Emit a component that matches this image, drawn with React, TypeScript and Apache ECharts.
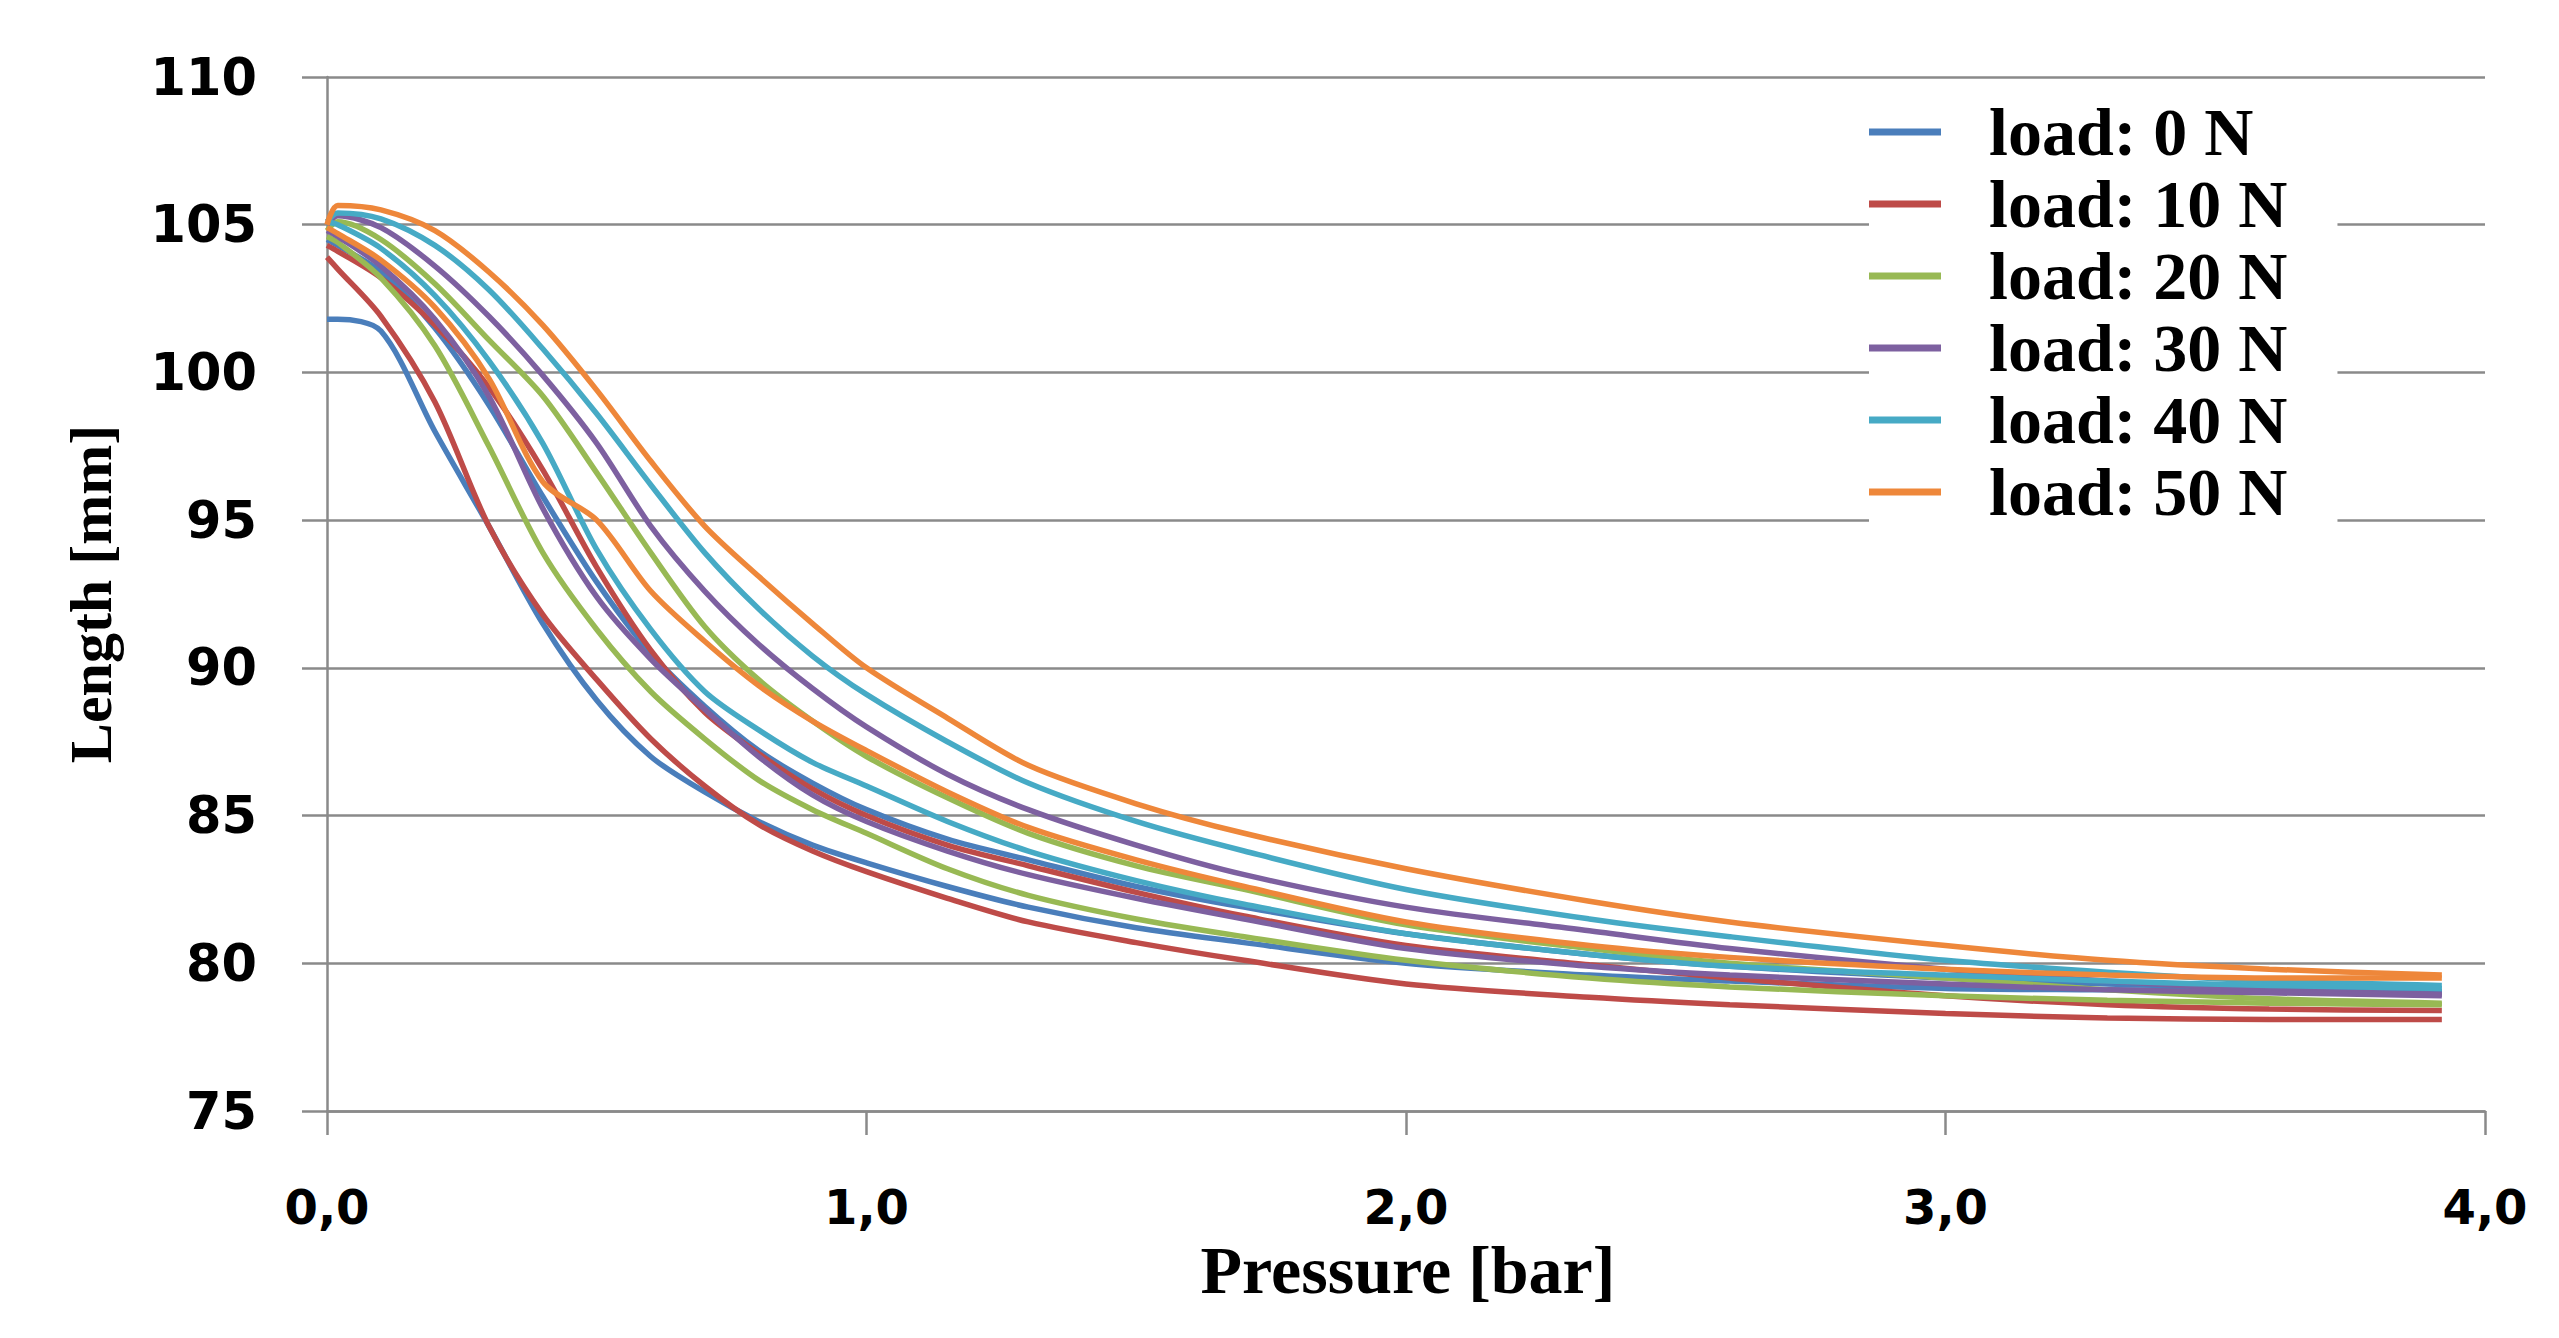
import React, { useEffect, useRef } from "react";
import * as echarts from "echarts";

const pressure = [0, 0.02, 0.1, 0.2, 0.3, 0.4, 0.5, 0.6, 0.7, 0.8, 0.9, 1.0, 1.15, 1.3, 1.5, 1.7, 2.0, 2.34, 2.6, 3.0, 3.3, 3.6, 3.92];

const load0Up = [101.8, 101.8, 101.4, 98.0, 94.8, 91.5, 88.9, 87.0, 85.8, 84.8, 84.0, 83.4, 82.6, 81.9, 81.2, 80.7, 80.0, 79.6, 79.4, 79.15, 79.1, 79.05, 79.0];
const load0Down = [104.5, 104.3, 103.4, 101.5, 98.9, 95.8, 92.9, 90.5, 88.7, 87.2, 86.1, 85.2, 84.2, 83.5, 82.6, 81.9, 81.0, 80.3, 79.9, 79.5, 79.3, 79.15, 79.05];
const load10Up = [103.9, 103.5, 101.9, 99.0, 94.8, 91.8, 89.6, 87.6, 86.0, 84.7, 83.8, 83.1, 82.2, 81.4, 80.7, 80.1, 79.3, 78.85, 78.6, 78.3, 78.15, 78.1, 78.1];
const load10Down = [104.3, 104.1, 103.2, 101.6, 99.5, 96.7, 93.4, 90.6, 88.5, 87.1, 85.9, 85.0, 84.0, 83.3, 82.4, 81.6, 80.6, 79.95, 79.5, 78.9, 78.6, 78.45, 78.4];
const load20Up = [104.8, 105.1, 104.5, 103.0, 101.1, 99.2, 96.6, 93.9, 91.4, 89.6, 88.2, 87.0, 85.6, 84.4, 83.3, 82.5, 81.3, 80.5, 80.0, 79.5, 79.1, 78.8, 78.65];
const load20Down = [104.6, 104.4, 103.2, 100.9, 97.5, 93.9, 91.3, 89.2, 87.6, 86.2, 85.2, 84.4, 83.2, 82.3, 81.5, 80.9, 80.1, 79.5, 79.2, 78.9, 78.75, 78.65, 78.6];
const load30Up = [105.0, 105.3, 104.9, 103.6, 101.9, 99.9, 97.6, 94.8, 92.6, 90.8, 89.3, 88.0, 86.4, 85.2, 84.0, 83.0, 81.9, 81.1, 80.5, 79.8, 79.4, 79.1, 78.95];
const load30Down = [104.8, 104.6, 103.6, 101.8, 99.2, 95.4, 92.4, 90.3, 88.6, 87.0, 85.7, 84.8, 83.8, 83.0, 82.2, 81.5, 80.5, 79.9, 79.6, 79.3, 79.1, 79.0, 78.9];
const load40Up = [105.1, 105.4, 105.2, 104.3, 102.8, 100.8, 98.6, 96.2, 93.9, 92.0, 90.4, 89.1, 87.5, 86.1, 84.8, 83.8, 82.5, 81.5, 80.9, 80.1, 79.7, 79.4, 79.25];
const load40Down = [105.1, 105.0, 104.2, 102.6, 100.4, 97.6, 94.0, 91.3, 89.2, 87.9, 86.8, 86.0, 84.8, 83.8, 82.8, 82.0, 81.0, 80.3, 79.9, 79.6, 79.4, 79.25, 79.15];
const load50Up = [105.0, 105.65, 105.5, 104.8, 103.4, 101.6, 99.4, 97.0, 94.8, 93.1, 91.5, 90.0, 88.3, 86.7, 85.4, 84.4, 83.2, 82.1, 81.4, 80.6, 80.1, 79.8, 79.6];
const load50Down = [104.9, 104.7, 103.8, 102.2, 99.8, 96.3, 95.0, 92.6, 90.9, 89.4, 88.2, 87.2, 85.8, 84.6, 83.5, 82.6, 81.4, 80.6, 80.2, 79.8, 79.6, 79.5, 79.5];

const legendNames = ["load: 0 N", "load: 10 N", "load: 20 N", "load: 30 N", "load: 40 N", "load: 50 N"];
const colors = ["#4A7EBB", "#BE4B48", "#98B954", "#7D60A0", "#46AAC5", "#EE873A"];
const curves = [
  [load0Up, load0Down],
  [load10Up, load10Down],
  [load20Up, load20Down],
  [load30Up, load30Down],
  [load40Up, load40Down],
  [load50Up, load50Down],
];
const xTitle = "Pressure [bar]";
const yTitle = "Length [mm]";

const gridColor = "#8a8a8a";

export default function App() {
  const ref = useRef<HTMLDivElement>(null);
  useEffect(() => {
    if (!ref.current) return;
    const chart = echarts.init(ref.current, undefined, { renderer: "svg" });
    const series: any[] = [];
    curves.forEach((pair, i) => {
      pair.forEach((vals) => {
        series.push({
          name: legendNames[i],
          type: "line",
          data: pressure.map((p, k) => [p, vals[k]]),
          showSymbol: false,
          smooth: 0.3,
          lineStyle: { width: 5.5, color: colors[i] },
          itemStyle: { color: colors[i] },
          z: 2 + i,
        });
      });
    });
    chart.setOption({
      animation: false,
      backgroundColor: "#ffffff",
      grid: { left: 327, right: 74, top: 77, bottom: 227, containLabel: false },
      graphic: [
        {
          type: "text",
          x: 1408,
          y: 1270,
          style: {
            text: xTitle,
            align: "center",
            verticalAlign: "middle",
            font: "bold 68px 'Liberation Serif'",
            fill: "#000",
          },
        },
      ],
      legend: {
        data: legendNames,
        orient: "vertical",
        left: 1869,
        top: 84,
        padding: [14, 50, 30, 0],
        backgroundColor: "#ffffff",
        itemGap: 4,
        itemWidth: 72,
        itemHeight: 7,
        icon: "rect",
        z: 20,
        textStyle: {
          fontFamily: "Liberation Serif",
          fontWeight: "bold",
          fontSize: 68,
          lineHeight: 62,
          color: "#000",
          padding: [0, 0, 0, 43],
        },
      },
      xAxis: {
        type: "value",
        min: 0,
        max: 4,
        interval: 1,
        axisLine: { show: true, lineStyle: { color: gridColor, width: 2.5 } },
        axisTick: { show: true, inside: false, length: 24, lineStyle: { color: gridColor, width: 2.5 } },
        splitLine: { show: false },
        axisLabel: {
          margin: 72,
          fontFamily: "DejaVu Sans",
          fontWeight: "bold",
          fontSize: 48,
          color: "#000",
          formatter: (v: number) => v.toFixed(1).replace(".", ","),
        },
      },
      yAxis: {
        type: "value",
        min: 75,
        max: 110,
        interval: 5,
        name: yTitle,
        nameLocation: "middle",
        nameGap: 206,
        nameTextStyle: { fontFamily: "Liberation Serif", fontWeight: "bold", fontSize: 60, color: "#000" },
        axisLine: { show: true, lineStyle: { color: gridColor, width: 2.5 } },
        axisTick: { show: true, inside: false, length: 25, lineStyle: { color: gridColor, width: 2.5 } },
        splitLine: { show: true, lineStyle: { color: gridColor, width: 2.5 } },
        axisLabel: {
          margin: 70,
          fontFamily: "DejaVu Sans",
          fontWeight: "bold",
          fontSize: 51,
          color: "#000",
        },
      },
      series,
    });
    return () => chart.dispose();
  }, []);
  return <div ref={ref} style={{ position: "fixed", left: 0, top: 0, width: 2559, height: 1338, background: "#fff" }} />;
}
